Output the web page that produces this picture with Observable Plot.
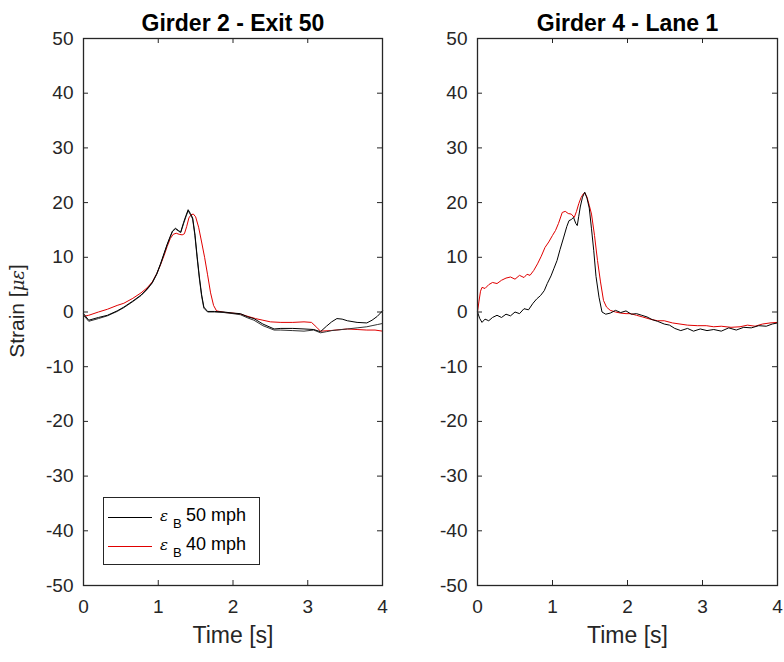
<!DOCTYPE html>
<html><head><meta charset="utf-8">
<script src="https://cdn.jsdelivr.net/npm/d3@7"></script>
<script src="https://cdn.jsdelivr.net/npm/@observablehq/plot@0.6"></script>
<style>
body{margin:0;background:#fff;}
#fig{position:relative;width:784px;height:662px;font-family:"Liberation Sans",Arial,sans-serif;background:#fff;}
#fig svg{position:absolute;top:0;overflow:visible;}
#legend{position:absolute;left:103px;top:497px;width:155px;height:66px;border:1px solid #262626;background:#fff;color:#000;font-size:18px;}
#legend .row{position:absolute;left:0;height:20px;}
#legend .ln{position:absolute;left:4px;width:44px;top:10px;height:0;border-top:1px solid;}
#legend .eps{position:absolute;left:56px;top:0px;font-style:italic;font-size:15px;font-family:"DejaVu Serif",serif;}
#legend .sub{position:absolute;left:69px;top:9px;font-size:13px;}
#legend .lab{position:absolute;left:82px;top:-2px;white-space:nowrap;}
</style></head><body><div id="fig"></div>
<script>
// ---- data ----
const xTicks = [0, 1, 2, 3, 4];
const yTicks = [-50, -40, -30, -20, -10, 0, 10, 20, 30, 40, 50];
const titles = ["Girder 2 - Exit 50", "Girder 4 - Lane 1"];
const seriesNames = ["50 mph", "40 mph"];

// Left panel: Girder 2 - Exit 50
const g2_t50 = [0, 0.07, 0.2, 0.32, 0.45, 0.54, 0.66, 0.77, 0.85, 0.92, 0.98, 1.03, 1.08, 1.12, 1.16, 1.19, 1.23, 1.27, 1.30, 1.34, 1.37, 1.40, 1.43, 1.46, 1.49, 1.52, 1.55, 1.58, 1.61, 1.66, 1.75, 1.88, 2.0, 2.1, 2.2, 2.28, 2.4, 2.55, 2.64, 2.8, 2.95, 3.08, 3.17, 3.25, 3.32, 3.39, 3.46, 3.53, 3.66, 3.79, 3.86, 3.93, 4.0];
const g2_v50a = [-0.3, -1.5, -1.0, -0.6, 0.2, 0.9, 2.0, 3.1, 4.2, 5.4, 7.0, 8.8, 10.8, 12.4, 13.8, 14.8, 15.3, 14.9, 14.6, 16.4, 17.6, 18.7, 18.0, 17.2, 14.3, 10.2, 6.4, 3.2, 0.9, 0.1, 0.1, 0.0, -0.2, -0.3, -0.9, -1.2, -2.2, -3.1, -3.0, -3.0, -3.1, -3.2, -3.6, -2.6, -1.8, -1.2, -1.3, -1.6, -1.9, -2.0, -1.5, -0.8, 0.2];
const g2_v50b = [-0.6, -1.7, -1.2, -0.7, 0.1, 0.8, 1.9, 3.0, 4.1, 5.3, 6.9, 8.7, 10.7, 12.3, 13.7, 14.7, 15.2, 14.8, 14.5, 16.2, 17.4, 18.5, 17.8, 17.0, 14.0, 9.9, 6.1, 2.9, 0.7, 0.0, 0.0, -0.1, -0.3, -0.5, -1.1, -1.5, -2.5, -3.3, -3.3, -3.4, -3.5, -3.3, -3.8, -3.6, -3.4, -3.3, -3.2, -3.1, -2.9, -2.7, -2.5, -2.3, -2.1];
const g2_t40 = [0, 0.07, 0.2, 0.32, 0.45, 0.54, 0.66, 0.77, 0.85, 0.92, 0.98, 1.03, 1.08, 1.12, 1.16, 1.20, 1.24, 1.28, 1.32, 1.35, 1.38, 1.41, 1.44, 1.47, 1.50, 1.54, 1.58, 1.62, 1.66, 1.70, 1.74, 1.78, 1.9, 2.0, 2.1, 2.2, 2.3, 2.4, 2.5, 2.64, 2.8, 2.95, 3.05, 3.12, 3.17, 3.3, 3.45, 3.53, 3.66, 3.79, 3.9, 4.0];
const g2_v40 = [-0.8, -0.6, 0.0, 0.5, 1.2, 1.6, 2.5, 3.5, 4.4, 5.5, 7.0, 8.6, 10.4, 12.0, 13.4, 14.2, 14.4, 14.2, 14.1, 14.3, 15.6, 17.2, 17.8, 17.9, 17.4, 15.5, 12.8, 10.0, 6.8, 3.5, 1.2, 0.2, -0.1, -0.2, -0.4, -0.8, -1.2, -1.5, -1.8, -1.9, -1.9, -1.8, -1.9, -2.8, -3.5, -3.4, -3.2, -3.1, -3.2, -3.3, -3.3, -3.5];

// Right panel: Girder 4 - Lane 1
const g4_t50 = [0, 0.03, 0.06, 0.1, 0.15, 0.2, 0.26, 0.32, 0.38, 0.44, 0.5, 0.56, 0.62, 0.68, 0.74, 0.79, 0.84, 0.89, 0.93, 0.98, 1.02, 1.06, 1.10, 1.15, 1.19, 1.22, 1.25, 1.28, 1.31, 1.33, 1.35, 1.37, 1.40, 1.43, 1.46, 1.49, 1.52, 1.55, 1.58, 1.62, 1.66, 1.71, 1.77, 1.84, 1.91, 1.98, 2.05, 2.12, 2.19, 2.26, 2.33, 2.4, 2.49, 2.56, 2.63, 2.71, 2.8, 2.88, 2.97, 3.06, 3.15, 3.25, 3.35, 3.45, 3.55, 3.65, 3.75, 3.85, 3.93, 4.0];
const g4_v50 = [0, -1.2, -1.9, -1.3, -1.6, -1.0, -0.6, -1.0, -0.4, -0.7, 0.0, -0.3, 0.6, 0.4, 1.6, 2.4, 3.0, 3.9, 5.2, 6.6, 8.0, 9.4, 11.4, 13.7, 15.6, 16.7, 16.9, 17.3, 16.2, 15.8, 17.5, 19.2, 21.0, 21.9, 20.8, 19.0, 15.2, 11.2, 6.5, 2.7, 0.0, -0.4, -0.2, 0.3, -0.1, 0.2, -0.4, -0.3, -0.6, -0.9, -1.4, -1.7, -2.2, -2.4, -3.0, -3.4, -3.0, -3.5, -3.1, -3.4, -3.2, -3.5, -2.9, -3.3, -2.8, -2.9, -2.5, -2.6, -2.2, -2.0];
const g4_t40 = [0, 0.02, 0.04, 0.06, 0.1, 0.15, 0.2, 0.26, 0.32, 0.38, 0.44, 0.5, 0.56, 0.62, 0.66, 0.70, 0.75, 0.80, 0.85, 0.90, 0.95, 1.0, 1.04, 1.08, 1.13, 1.17, 1.21, 1.25, 1.29, 1.32, 1.35, 1.38, 1.41, 1.43, 1.46, 1.49, 1.52, 1.56, 1.60, 1.64, 1.68, 1.72, 1.77, 1.84, 1.91, 1.98, 2.04, 2.12, 2.2, 2.3, 2.4, 2.49, 2.6, 2.7, 2.8, 2.93, 3.05, 3.15, 3.25, 3.38, 3.5, 3.6, 3.7, 3.8, 3.9, 4.0];
const g4_v40 = [0, 2.0, 3.8, 4.5, 4.3, 5.0, 5.4, 5.2, 5.8, 6.2, 6.4, 6.0, 6.7, 6.3, 6.9, 6.7, 7.6, 8.8, 10.2, 11.8, 12.8, 14.0, 14.9, 16.2, 18.2, 18.4, 18.0, 17.9, 17.3, 18.4, 19.8, 20.9, 21.6, 21.8, 21.0, 19.5, 17.9, 14.0, 9.4, 5.5, 2.1, 0.9, 0.3, 0.0, -0.2, -0.3, -0.3, -0.6, -0.9, -1.3, -1.6, -1.6, -2.0, -2.2, -2.4, -2.5, -2.5, -2.7, -2.6, -2.8, -2.7, -2.4, -2.6, -2.2, -2.0, -1.9];

// ---- build ----
const zip = (t, v) => t.map((x, i) => ({t: x, v: v[i]}));
const W = 392, H = 662, mT = 38, mB = 77;
const innerH = H - mT - mB;
const AX = "#262626";
const fmt = d => String(d);

function panel(title, lines, mL, mR) {
  const innerW = W - mL - mR;
  return Plot.plot({
    width: W, height: H,
    marginLeft: mL, marginRight: mR, marginTop: mT, marginBottom: mB,
    style: {fontFamily: '"Liberation Sans", Arial, sans-serif', background: "transparent", overflow: "visible"},
    x: {domain: [0, 4]},
    y: {domain: [-50, 50]},
    marks: [
      Plot.axisX({ticks: xTicks, tickSize: 0, tickPadding: 14, tickFormat: fmt, fontSize: 19, color: AX, label: null}),
      Plot.axisY({ticks: yTicks, tickSize: 0, tickPadding: 10, tickFormat: fmt, fontSize: 19, color: AX, label: null}),
      Plot.tickX(xTicks, {x: d => d, insetTop: innerH - 5, stroke: AX}),
      Plot.tickX(xTicks, {x: d => d, insetBottom: innerH - 5, stroke: AX}),
      Plot.tickY(yTicks, {y: d => d, insetRight: innerW - 5, stroke: AX}),
      Plot.tickY(yTicks, {y: d => d, insetLeft: innerW - 5, stroke: AX}),
      ...lines.map(l => Plot.line(l.data, {x: "t", y: "v", stroke: l.color, strokeWidth: 1})),
      Plot.frame({stroke: AX, strokeWidth: 1.3}),
      Plot.text([title], {frameAnchor: "top", dy: -24, fontWeight: "bold", fontSize: 23, fill: "#000"}),
      Plot.text(["Time [s]"], {frameAnchor: "bottom", dy: 57, fontSize: 23, fill: AX})
    ]
  });
}

const fig = document.getElementById("fig");
const left = panel(titles[0], [
  {data: zip(g2_t40, g2_v40), color: "#e00000"},
  {data: zip(g2_t50, g2_v50b), color: "#333333"},
  {data: zip(g2_t50, g2_v50a), color: "#000000"}
], 83, 10);
left.style.left = "0px";
fig.appendChild(left);

const right = panel(titles[1], [
  {data: zip(g4_t40, g4_v40), color: "#e00000"},
  {data: zip(g4_t50, g4_v50), color: "#000000"}
], 85, 7);
right.style.left = "392px";
fig.appendChild(right);

// y label with italic micro-strain
const yl = d3.select(left).append("text")
  .attr("transform", "translate(24,311) rotate(-90)")
  .attr("text-anchor", "middle")
  .attr("fill", AX)
  .attr("font-size", 21);
yl.append("tspan").text("Strain [");
yl.append("tspan").attr("font-style", "italic").attr("font-family", '"DejaVu Serif", serif').attr("font-size", 18).text("\u03bc\u03b5");
yl.append("tspan").text("]");

// legend
const lg = document.createElement("div");
lg.id = "legend";
const colors = ["#000000", "#e00000"];
seriesNames.forEach((name, i) => {
  const row = document.createElement("div");
  row.className = "row";
  row.style.top = (9 + i * 29) + "px";
  row.innerHTML = `<div class="ln" style="border-color:${colors[i]}"></div><span class="eps">\u03b5</span><span class="sub">B</span><span class="lab">${name}</span>`;
  lg.appendChild(row);
});
fig.appendChild(lg);
</script></body></html>
